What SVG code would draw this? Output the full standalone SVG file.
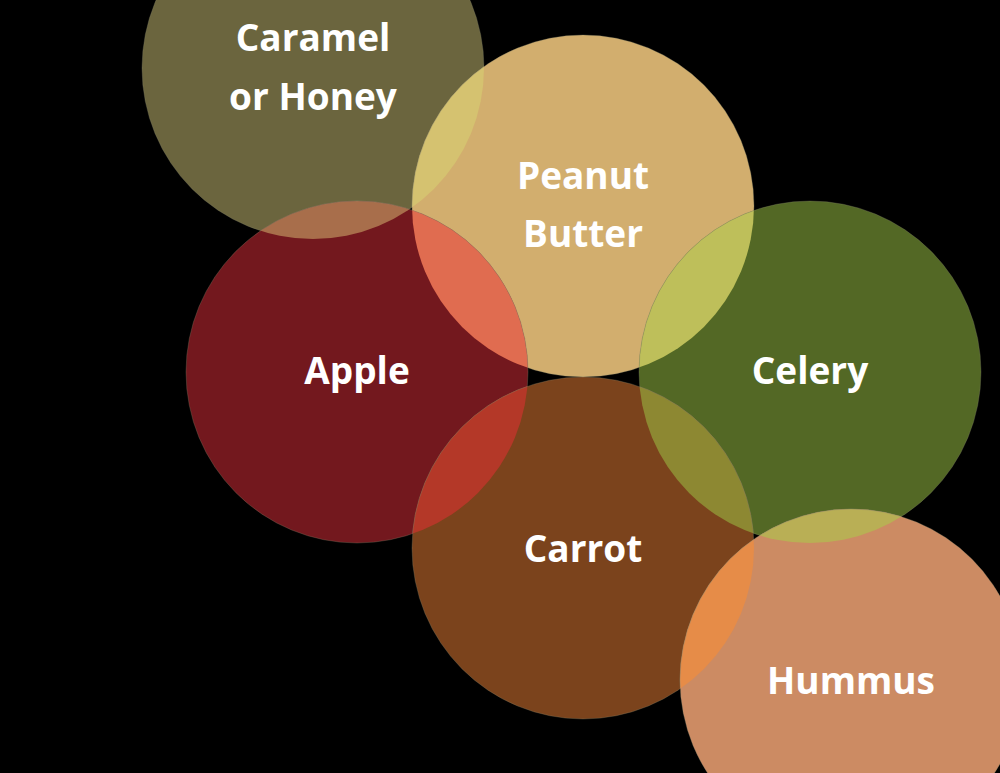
<svg xmlns="http://www.w3.org/2000/svg" width="1000" height="773" viewBox="0 0 1000 773">
<style>
circle{stroke:#8a8a70;stroke-width:0.6;stroke-opacity:0.5}
text{font-family:"Open Sans","Liberation Sans",sans-serif;font-weight:bold;font-size:37px;fill:#fff;text-anchor:middle}
</style>
<defs>
<clipPath id="cCar"><circle cx="313" cy="68" r="171"/></clipPath>
<clipPath id="cPea"><circle cx="583" cy="206" r="171"/></clipPath>
<clipPath id="cApp"><circle cx="357" cy="372" r="171"/></clipPath>
<clipPath id="cCel"><circle cx="810" cy="372" r="171"/></clipPath>
<clipPath id="cCrt"><circle cx="583" cy="548" r="171"/></clipPath>
</defs>
<rect width="1000" height="773" fill="#000"/>
<g id="caramel"><circle cx="313" cy="68" r="171" fill="#6b653e"/></g>
<g id="peanut"><circle cx="583" cy="206" r="171" fill="#d2ae6e"/></g>
<g id="apple"><circle cx="357" cy="372" r="171" fill="#73181e"/></g>
<g id="celery"><circle cx="810" cy="372" r="171" fill="#536825"/></g>
<g id="carrot"><circle cx="583" cy="548" r="171" fill="#7b431c"/></g>
<g id="hummus"><circle cx="851" cy="680" r="171" fill="#cc8b63"/></g>
<g id="overlaps">
<circle cx="583" cy="206" r="171" fill="#d5c270" clip-path="url(#cCar)"/>
<circle cx="357" cy="372" r="171" fill="#a86e4b" clip-path="url(#cCar)"/>
<circle cx="357" cy="372" r="171" fill="#e06c50" clip-path="url(#cPea)"/>
<circle cx="810" cy="372" r="171" fill="#bebf5a" clip-path="url(#cPea)"/>
<circle cx="583" cy="548" r="171" fill="#b43828" clip-path="url(#cApp)"/>
<circle cx="583" cy="548" r="171" fill="#8d8832" clip-path="url(#cCel)"/>
<circle cx="851" cy="680" r="171" fill="#e68c48" clip-path="url(#cCrt)"/>
<circle cx="851" cy="680" r="171" fill="#b9af55" clip-path="url(#cCel)"/>
</g>
<g id="labels">
<text x="313" y="51">Caramel</text>
<text x="313" y="110">or Honey</text>
<text x="583" y="189">Peanut</text>
<text x="583" y="247">Butter</text>
<text x="357" y="384">Apple</text>
<text x="810" y="384">Celery</text>
<text x="583" y="562">Carrot</text>
<text x="851" y="694">Hummus</text>
</g>
</svg>
